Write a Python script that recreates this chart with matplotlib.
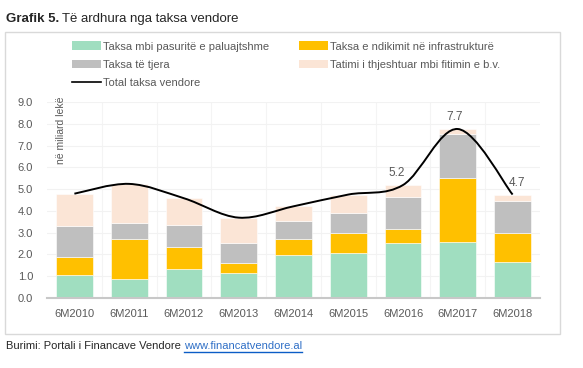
import numpy as np
import matplotlib.pyplot as plt
from matplotlib.path import Path
from matplotlib.patches import PathPatch, Rectangle, Patch
from matplotlib.lines import Line2D

plt.rcParams['font.family'] = ['Liberation Sans', 'DejaVu Sans']

periods = ['6M2010', '6M2011', '6M2012', '6M2013', '6M2014',
           '6M2015', '6M2016', '6M2017', '6M2018']
# segment heights (billion lek)
pasurite = [1.07, 0.89, 1.35, 1.16, 1.96, 2.08, 2.53, 2.59, 1.64]
infrastruktura = [0.80, 1.81, 0.98, 0.46, 0.74, 0.92, 0.66, 2.94, 1.36]
te_tjera = [1.45, 0.73, 1.02, 0.92, 0.84, 0.89, 1.43, 1.99, 1.47]
tatimi_bv = [1.47, 1.81, 1.23, 1.15, 0.67, 0.86, 0.57, 0.24, 0.28]
total = [4.79, 5.24, 4.58, 3.69, 4.21, 4.75, 5.19, 7.76, 4.75]
labelled = {6: '5.2', 7: '7.7', 8: '4.7'}

series = [
    ('Taksa mbi pasuritë e paluajtshme', pasurite, '#A0DEC0'),
    ('Taksa e ndikimit në infrastrukturë', infrastruktura, '#FFC000'),
    ('Taksa të tjera', te_tjera, '#BFBFBF'),
    ('Tatimi i thjeshtuar mbi fitimin e b.v.', tatimi_bv, '#FBE5D6'),
]

W, H = 583, 368
fig = plt.figure(figsize=(W / 100, H / 100), dpi=100)
txt = '#595959'

# frame around the chart
fig.patches.append(Rectangle((5 / W, 1 - 334 / H), 555 / W, 302 / H,
                             transform=fig.transFigure, fill=False,
                             edgecolor='#D9D9D9', linewidth=1.0))

ax = fig.add_axes([47 / W, 1 - 298 / H, 493 / W, 196 / H])
x = np.arange(len(periods))
bottom = np.zeros(len(periods))
for name, vals, col in series:
    ax.bar(x, vals, 0.67, bottom=bottom, color=col, edgecolor='white',
           linewidth=0.4, zorder=2)
    bottom += np.array(vals)

# smoothed total line (cubic bezier through the points, like Excel)
pts = np.column_stack([x, total]).astype(float)
verts = [pts[0]]
codes = [Path.MOVETO]
for i in range(len(pts) - 1):
    p0 = pts[max(i - 1, 0)]
    p1 = pts[i]
    p2 = pts[i + 1]
    p3 = pts[min(i + 2, len(pts) - 1)]
    verts += [p1 + (p2 - p0) / 6, p2 - (p3 - p1) / 6, p2]
    codes += [Path.CURVE4] * 3
ax.add_patch(PathPatch(Path(verts, codes), fill=False, edgecolor='black',
                       linewidth=1.4, zorder=3))

# data labels, nudged sideways the way Excel placed them
nudge = {6: -4.5, 7: -2, 8: 3}
for i, s in labelled.items():
    ax.annotate(s, (x[i], total[i]), xytext=(nudge[i], 4), textcoords='offset points',
                ha='center', va='bottom', fontsize=8.5, color=txt)

ax.set_xlim(-0.5, len(periods) - 0.5)
ax.set_ylim(0, 9)
ax.set_yticks(np.arange(0, 9.1, 1.0))
ax.set_yticklabels(['%.1f' % v for v in np.arange(0, 9.1, 1.0)])
ax.set_xticks(x)
ax.set_xticklabels(periods)
ax.set_xticks(x[:-1] + 0.5, minor=True)
ax.grid(True, axis='y', color='#F2F2F2', linewidth=0.8, zorder=0)
ax.grid(True, axis='x', which='minor', color='#F4F4F4', linewidth=0.8, zorder=0)
ax.tick_params(axis='both', which='both', length=0, labelsize=8, colors=txt)
ax.tick_params(axis='x', pad=8)
ax.tick_params(axis='y', pad=10)
for side in ['top', 'right', 'left']:
    ax.spines[side].set_visible(False)
ax.spines['bottom'].set_color('#C8C8C8')
ax.spines['bottom'].set_linewidth(1.5)
ax.set_axisbelow(True)

ax.text(0.018, 1.03, 'në miliard lekë', transform=ax.transAxes, rotation=90,
        ha='left', va='top', fontsize=7.5, color=txt)

# legend in two columns
handles = [Patch(facecolor=c, label=n) for n, v, c in series]
handles.append(Line2D([], [], color='black', linewidth=1.2,
                      label='Total taksa vendore'))
order = [0, 2, 4, 1, 3]
leg = fig.legend([handles[i] for i in order],
                 [handles[i].get_label() for i in order],
                 loc='upper left', bbox_to_anchor=(68 / W, 1 - 37 / H),
                 ncol=2, frameon=False, fontsize=8, labelcolor=txt,
                 handlelength=2.6, handleheight=0.8, handletextpad=0.15,
                 columnspacing=2.7, labelspacing=0.72, borderaxespad=0)

# title
t1 = fig.text(6 / W, 1 - 19 / H, 'Grafik 5.', fontsize=9.5, fontweight='bold',
              color='#262626', va='center')
fig.canvas.draw()
bb = t1.get_window_extent()
fig.text((bb.x1 + 3) / W, 1 - 19 / H, 'Të ardhura nga taksa vendore',
         fontsize=9.5, color='#262626', va='center')

# source line
s1 = fig.text(6 / W, 1 - 346 / H, 'Burimi: Portali i Financave Vendore',
              fontsize=8, color='#262626', va='center')
fig.canvas.draw()
bb = s1.get_window_extent()
s2 = fig.text((bb.x1 + 3) / W, 1 - 346 / H, 'www.financatvendore.al',
              fontsize=8, color='#2F6FC6', va='center')
fig.canvas.draw()
bb2 = s2.get_window_extent()
fig.add_artist(Line2D([bb2.x0 / W, bb2.x1 / W], [(bb2.y0 - 1) / H] * 2,
                      color='#0B5CC6', linewidth=1.0))

fig.savefig('out.png', dpi=100)
